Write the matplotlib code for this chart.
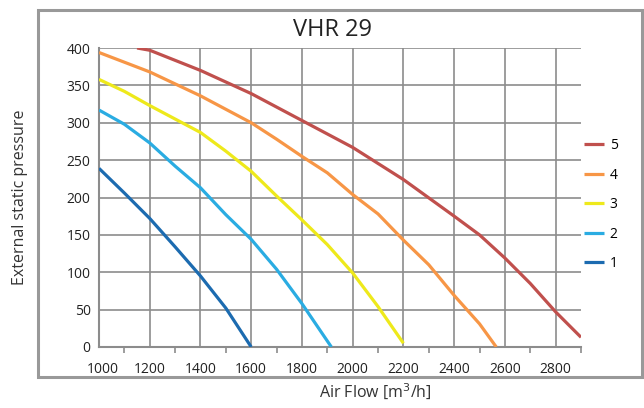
import matplotlib
matplotlib.use("Agg")
import matplotlib.pyplot as plt
from matplotlib.patches import Rectangle
from matplotlib.transforms import ScaledTranslation

plt.rcParams['font.family'] = ['Open Sans', 'DejaVu Sans']

# Data
x5 = [1150, 1200, 1400, 1600, 1800, 2000, 2200, 2400, 2500, 2600, 2700, 2800, 2900]
y5 = [400, 397, 370, 339, 303, 267, 224, 175, 150, 119, 85, 47, 13]
x4 = [1000, 1200, 1400, 1600, 1700, 1800, 1900, 2000, 2100, 2200, 2300, 2400, 2500, 2566]
y4 = [394, 368, 336, 300, 278, 255, 233, 204, 178, 143, 110, 69, 31, 0]
x3 = [1000, 1100, 1200, 1300, 1400, 1500, 1600, 1700, 1800, 1900, 2000, 2100, 2200]
y3 = [358, 342, 323, 305, 287, 262, 235, 202, 170, 137, 99, 54, 5]
x2 = [1000, 1100, 1200, 1300, 1400, 1500, 1600, 1700, 1800, 1916]
y2 = [317, 298, 273, 242, 213, 177, 144, 104, 58, 0]
x1 = [1000, 1100, 1200, 1300, 1400, 1500, 1600]
y1 = [239, 206, 172, 134, 95, 52, 0]

series = [("5", x5, y5, "#C0504D"),
          ("4", x4, y4, "#F79646"),
          ("3", x3, y3, "#EEE91B"),
          ("2", x2, y2, "#2AACE2"),
          ("1", x1, y1, "#1C6BB0")]

xticks = [1000, 1200, 1400, 1600, 1800, 2000, 2200, 2400, 2600, 2800]
xminor = [1100, 1300, 1500, 1700, 1900, 2100, 2300, 2500, 2700, 2900]
yticks = [0, 50, 100, 150, 200, 250, 300, 350, 400]

W, H = 644, 408
fig = plt.figure(figsize=(W / 100, H / 100), dpi=100)
ax = fig.add_axes([99 / W, 1 - 347 / H, (581 - 99) / W, (347 - 48) / H])

handles = []
for lab, xs, ys, c in series:
    h, = ax.plot(xs, ys, color=c, lw=2.3, label=lab, solid_capstyle='butt',
                 solid_joinstyle='round', zorder=3)
    handles.append(h)

ax.set_xlim(1000, 2900)
ax.set_ylim(0, 400)
ax.set_xticks(xticks)
ax.set_xticks(xminor, minor=True)
ax.set_yticks(yticks)
ax.grid(True, which='major', color='#8c8c8c', lw=1.2, zorder=1)
ax.tick_params(axis='x', which='major', length=0, pad=11, labelsize=10, labelcolor='#222222')
ax.tick_params(axis='x', which='minor', length=4, width=1.2, color='#8c8c8c', direction='out')
ax.tick_params(axis='y', length=0, pad=6, labelsize=10, labelcolor='#222222')
for s in ['top', 'right']:
    ax.spines[s].set_visible(False)
for s in ['left', 'bottom']:
    ax.spines[s].set_color('#8c8c8c')
    ax.spines[s].set_linewidth(1.5)

first = ax.get_xticklabels()[0]
first.set_transform(first.get_transform() + ScaledTranslation(4 / 100, 0, fig.dpi_scale_trans))

ax.legend(handles=handles, loc='upper left', bbox_to_anchor=(584 / W, 1 - 138 / H),
          bbox_transform=fig.transFigure, frameon=False, fontsize=10,
          handlelength=1.45, handletextpad=0.4, labelspacing=1.05,
          borderaxespad=0, borderpad=0)

fig.text(333 / W, 1 - 30 / H, "VHR 29", ha='center', va='center', fontsize=17, color='#222222')
fig.text(20 / W, 1 - 197 / H, "External static pressure", ha='center', va='center',
         rotation=90, fontsize=11.5, color='#333333')
fig.text(375 / W, 1 - 392 / H, "Air Flow [m$^3$/h]", ha='center', va='center',
         fontsize=11.5, color='#333333')

fig.patches.append(Rectangle((37.5 / W, 1 - 376.5 / H), (641.5 - 37.5) / W, (376.5 - 9.5) / H,
                             transform=fig.transFigure, fill=False, edgecolor='#999999', lw=2.2))

fig.savefig("out.png", dpi=100)
